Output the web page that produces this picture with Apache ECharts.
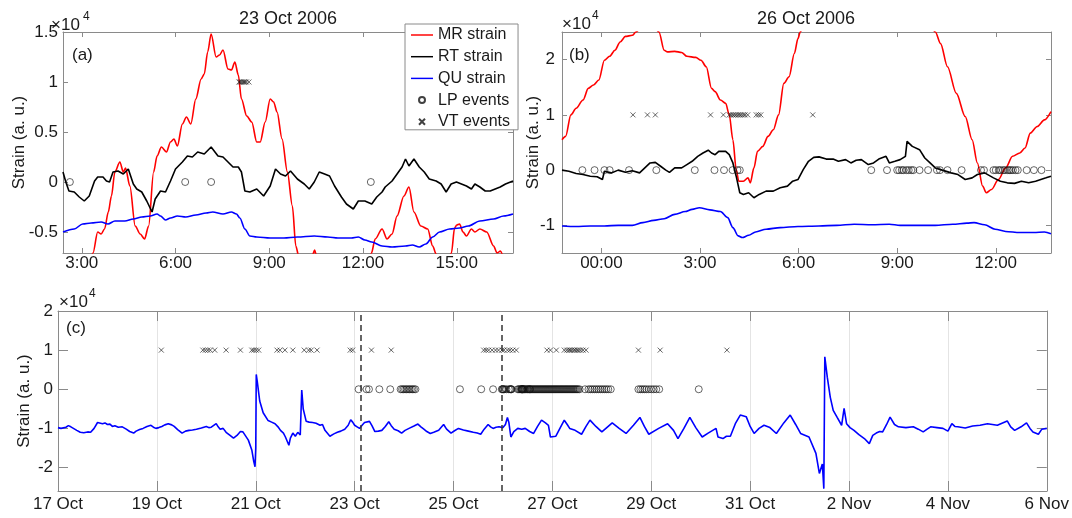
<!DOCTYPE html>
<html><head><meta charset="utf-8">
<script src="https://cdn.jsdelivr.net/npm/echarts@6/dist/echarts.min.js"></script>
<style>html,body{margin:0;padding:0;background:#fff}#c{width:1072px;height:518px}</style>
</head><body><div id="c"></div>
<script>
// ---------- DATA (strain in units of 1e4) ----------
// Panel (a): hours of 23 Oct 2006
const mrA = [[2.40,-1.30],[2.80,-1.10],[3.20,-0.85],[3.36,-0.71],[3.51,-0.50],[3.62,-0.52],[3.73,-0.47],[3.85,-0.30],[3.95,-0.14],[4.06,0.10],[4.22,0.20],[4.33,0.10],[4.40,0.14],[4.54,-0.04],[4.71,-0.44],[4.87,-0.52],[5.01,-0.57],[5.14,-0.44],[5.30,0.10],[5.41,0.26],[5.55,0.35],[5.71,0.30],[5.84,0.40],[5.95,0.43],[6.06,0.36],[6.22,0.58],[6.35,0.65],[6.49,0.58],[6.65,0.83],[6.82,1.03],[6.92,1.08],[7.03,1.30],[7.14,1.48],[7.30,1.25],[7.41,1.27],[7.52,1.32],[7.68,1.13],[7.79,1.12],[7.90,1.20],[8.01,1.07],[8.11,0.83],[8.28,0.66],[8.44,0.60],[8.60,0.40],[8.71,0.40],[8.87,0.60],[9.03,0.83],[9.14,0.80],[9.25,0.70],[9.41,0.43],[9.58,0.10],[9.74,-0.24],[9.85,-0.64],[9.95,-0.75],[10.15,-0.85],[10.40,-0.72],[10.45,-0.68],[10.52,-0.75],[10.80,-1.00],[11.50,-1.20],[12.10,-0.95],[12.27,-0.71],[12.39,-0.57],[12.61,-0.47],[12.77,-0.57],[12.93,-0.52],[13.09,-0.34],[13.31,-0.14],[13.47,-0.05],[13.63,-0.30],[13.85,-0.44],[14.07,-0.47],[14.23,-0.64],[14.34,-0.72],[14.55,-0.95],[14.83,-0.71],[14.93,-0.46],[15.00,-0.43],[15.09,-0.42],[15.20,-0.50],[15.31,-0.54],[15.47,-0.47],[15.58,-0.50],[15.74,-0.47],[15.96,-0.50],[16.18,-0.64],[16.29,-0.71],[16.40,-0.69],[16.50,-0.75],[16.80,-0.90]];
const rtA = [[2.40,0.10],[2.49,0.00],[2.59,-0.09],[2.76,-0.10],[2.92,-0.15],[3.08,-0.19],[3.24,-0.14],[3.41,0.01],[3.51,0.05],[3.68,0.05],[3.79,0.01],[3.89,0.00],[4.00,0.10],[4.16,0.11],[4.33,0.08],[4.49,0.13],[4.65,-0.02],[4.76,-0.07],[4.92,-0.10],[5.08,-0.19],[5.25,-0.30],[5.35,-0.17],[5.52,-0.09],[5.68,-0.10],[5.84,0.01],[6.00,0.13],[6.22,0.20],[6.38,0.26],[6.54,0.25],[6.71,0.30],[6.92,0.28],[7.14,0.35],[7.36,0.26],[7.52,0.25],[7.68,0.20],[7.84,0.15],[8.01,0.15],[8.11,0.10],[8.22,-0.09],[8.38,-0.10],[8.60,-0.07],[8.82,-0.14],[9.03,-0.04],[9.20,0.13],[9.36,0.08],[9.52,0.06],[9.68,0.11],[9.90,0.03],[10.12,-0.02],[10.28,-0.07],[10.44,0.00],[10.60,0.10],[10.77,0.08],[10.93,0.06],[11.09,-0.04],[11.31,-0.15],[11.47,-0.22],[11.69,-0.27],[11.85,-0.19],[12.06,-0.19],[12.28,-0.22],[12.44,-0.15],[12.61,-0.10],[12.71,-0.05],[12.93,0.01],[13.09,0.08],[13.25,0.15],[13.36,0.23],[13.47,0.16],[13.63,0.23],[13.80,0.15],[13.96,0.10],[14.12,0.03],[14.34,0.01],[14.50,-0.02],[14.66,-0.10],[14.82,-0.02],[14.99,0.00],[15.15,-0.02],[15.31,-0.04],[15.47,-0.07],[15.58,-0.02],[15.74,-0.05],[15.91,-0.09],[16.07,-0.09],[16.23,-0.07],[16.39,-0.05],[16.56,-0.02],[16.72,0.00],[16.80,0.01]];
const quA = [[2.40,-0.50],[2.76,-0.47],[3.03,-0.42],[3.30,-0.41],[3.62,-0.40],[3.84,-0.42],[4.06,-0.39],[4.38,-0.39],[4.65,-0.37],[4.92,-0.35],[5.19,-0.34],[5.41,-0.32],[5.52,-0.34],[5.68,-0.38],[5.84,-0.36],[6.06,-0.34],[6.33,-0.35],[6.65,-0.33],[6.98,-0.31],[7.19,-0.30],[7.52,-0.32],[7.79,-0.30],[7.95,-0.32],[8.06,-0.36],[8.22,-0.47],[8.38,-0.54],[8.60,-0.55],[9.03,-0.56],[9.47,-0.56],[9.90,-0.55],[10.44,-0.54],[10.87,-0.55],[11.20,-0.56],[11.63,-0.56],[11.85,-0.55],[12.06,-0.58],[12.28,-0.60],[12.61,-0.64],[12.93,-0.65],[13.36,-0.64],[13.58,-0.63],[13.80,-0.65],[14.01,-0.62],[14.23,-0.55],[14.45,-0.50],[14.77,-0.47],[15.09,-0.46],[15.37,-0.44],[15.74,-0.39],[16.18,-0.37],[16.50,-0.34],[16.80,-0.32]];
const lpA = [2.62, 6.31, 7.14, 12.25];
const vtA = [8.03, 8.07, 8.11, 8.15, 8.19, 8.23, 8.27, 8.35];

// Panel (b): hours of 26 Oct 2006
const mrB = [[-1.2,0.55],[-1.09,0.61],[-0.93,1.0],[-0.77,1.12],[-0.56,1.27],[-0.4,1.48],[-0.24,1.54],[-0.08,1.63],[0.09,1.99],[0.25,2.06],[0.41,2.17],[0.57,2.32],[0.73,2.42],[0.94,2.44],[1.05,2.5],[1.3,2.65],[1.55,2.65],[1.75,2.5],[1.91,2.17],[2.01,2.14],[2.23,2.15],[2.44,2.13],[2.6,2.06],[2.87,2.04],[3.03,1.99],[3.19,1.87],[3.35,1.48],[3.46,1.42],[3.62,1.27],[3.78,1.21],[3.89,1.0],[4.0,0.55],[4.1,0.01],[4.18,-0.2],[4.32,-0.2],[4.46,-0.14],[4.53,-0.23],[4.64,0.04],[4.75,0.34],[4.91,0.43],[5.07,0.61],[5.23,0.73],[5.39,1.0],[5.55,1.57],[5.71,1.69],[5.87,2.11],[5.98,2.38],[6.05,2.5],[6.3,2.9],[7.0,3.4],[8.0,3.8],[9.0,3.6],[9.8,2.9],[10.16,2.5],[10.32,2.29],[10.53,1.87],[10.8,1.39],[11.07,0.97],[11.28,0.55],[11.44,0.13],[11.6,-0.29],[11.71,-0.41],[11.87,-0.35],[12.08,-0.17],[12.3,0.04],[12.51,0.25],[12.73,0.31],[12.89,0.4],[13.05,0.67],[13.26,0.79],[13.48,0.91],[13.68,1.06]];
const rtB = [[-1.2,0.0],[-0.99,-0.02],[-0.77,-0.06],[-0.56,-0.08],[-0.34,-0.11],[-0.13,-0.12],[0.03,-0.17],[0.09,-0.02],[0.3,-0.05],[0.51,0.0],[0.73,-0.04],[0.94,-0.01],[1.16,-0.05],[1.32,0.04],[1.48,0.13],[1.64,0.14],[1.8,0.07],[1.96,0.0],[2.07,-0.04],[2.23,0.04],[2.44,0.04],[2.6,0.1],[2.76,0.16],[2.93,0.25],[3.09,0.31],[3.25,0.36],[3.35,0.31],[3.46,0.28],[3.57,0.34],[3.78,0.34],[3.89,0.28],[4.0,0.13],[4.1,-0.11],[4.21,-0.41],[4.32,-0.44],[4.48,-0.41],[4.64,-0.5],[4.8,-0.44],[5.01,-0.38],[5.23,-0.38],[5.44,-0.32],[5.66,-0.29],[5.82,-0.2],[5.98,-0.17],[6.14,0.01],[6.3,0.16],[6.46,0.23],[6.62,0.24],[6.84,0.2],[7.05,0.2],[7.21,0.16],[7.43,0.19],[7.59,0.13],[7.75,0.18],[7.91,0.19],[8.12,0.1],[8.28,0.13],[8.44,0.2],[8.66,0.25],[8.76,0.13],[8.93,0.16],[9.09,0.19],[9.25,0.25],[9.3,0.52],[9.36,0.54],[9.46,0.43],[9.68,0.37],[9.84,0.22],[10.0,0.13],[10.16,0.04],[10.37,0.0],[10.64,-0.05],[10.85,-0.08],[11.07,-0.17],[11.28,-0.14],[11.44,-0.08],[11.66,-0.05],[11.93,-0.14],[12.14,-0.2],[12.35,-0.23],[12.57,-0.24],[12.78,-0.2],[13.0,-0.23],[13.21,-0.2],[13.37,-0.17],[13.53,-0.14],[13.68,-0.11]];
const quB = [[-1.2,-1.01],[-0.77,-1.02],[-0.34,-1.01],[0.09,-1.01],[0.51,-1.0],[0.94,-1.0],[1.26,-0.95],[1.59,-0.91],[1.91,-0.88],[2.23,-0.80],[2.55,-0.75],[2.76,-0.71],[2.98,-0.68],[3.30,-0.72],[3.62,-0.75],[3.84,-0.86],[4.00,-1.04],[4.16,-1.19],[4.29,-1.22],[4.48,-1.18],[4.69,-1.12],[5.01,-1.07],[5.44,-1.04],[5.98,-1.02],[6.62,-1.01],[7.16,-1.0],[7.69,-0.98],[8.23,-0.99],[8.76,-0.98],[9.09,-1.0],[9.62,-1.0],[10.16,-1.0],[10.69,-0.98],[11.12,-0.96],[11.34,-0.95],[11.66,-0.99],[11.98,-1.07],[12.30,-1.11],[12.73,-1.13],[13.16,-1.13],[13.48,-1.12],[13.68,-1.15]];
const lpB = [-0.58,-0.21,0.09,0.25,0.84,1.67,2.84,3.44,3.73,3.99,4.14,4.21,8.21,8.69,9.0,9.06,9.14,9.19,9.28,9.35,9.43,9.49,9.68,9.94,10.21,10.3,10.53,10.96,11.55,11.64,11.93,12.0,12.09,12.14,12.22,12.28,12.36,12.41,12.46,12.52,12.6,12.67,12.94,13.16,13.39];
const vtB = [0.96,1.4,1.64,3.32,3.71,3.89,3.94,4.0,4.05,4.1,4.16,4.21,4.26,4.32,4.37,4.45,4.71,4.78,4.85,6.43];

// Panel (c): days since 17 Oct 2006 00:00
const quC = [[0.00,-0.98],[0.06,-1.00],[0.10,-0.95],[0.16,-0.97],[0.21,-0.93],[0.26,-0.96],[0.30,-0.98],[0.38,-1.05],[0.45,-1.10],[0.52,-1.11],[0.56,-1.06],[0.60,-1.09],[0.66,-1.10],[0.73,-1.00],[0.80,-0.85],[0.84,-0.82],[0.90,-0.88],[0.95,-0.86],[1.00,-0.90],[1.05,-0.89],[1.10,-0.95],[1.15,-0.93],[1.22,-0.97],[1.30,-0.96],[1.38,-1.02],[1.45,-1.08],[1.53,-1.12],[1.58,-1.07],[1.65,-1.03],[1.72,-1.00],[1.80,-0.95],[1.88,-0.92],[1.93,-0.97],[1.98,-1.00],[2.04,-0.98],[2.10,-0.95],[2.16,-0.91],[2.23,-0.88],[2.30,-0.91],[2.35,-0.95],[2.42,-1.03],[2.45,-1.08],[2.51,-1.12],[2.58,-1.07],[2.65,-1.05],[2.72,-1.04],[2.80,-1.02],[2.90,-0.99],[3.00,-0.95],[3.05,-0.98],[3.10,-0.97],[3.20,-0.88],[3.24,-0.96],[3.28,-1.02],[3.34,-1.00],[3.40,-1.10],[3.48,-1.18],[3.55,-1.25],[3.62,-1.18],[3.69,-1.08],[3.74,-1.09],[3.77,-1.12],[3.85,-1.30],[3.92,-1.55],[3.96,-1.85],[3.985,-1.98],[4.00,-1.50],[4.01,0.38],[4.03,0.20],[4.08,-0.30],[4.15,-0.60],[4.25,-0.80],[4.32,-0.84],[4.39,-0.88],[4.45,-0.96],[4.50,-1.05],[4.56,-1.12],[4.60,-1.22],[4.67,-1.43],[4.70,-1.25],[4.75,-1.12],[4.80,-1.20],[4.85,-1.10],[4.90,-1.17],[4.93,-0.02],[4.96,-0.50],[5.02,-0.82],[5.08,-0.84],[5.15,-0.85],[5.22,-0.87],[5.30,-0.92],[5.35,-0.90],[5.40,-1.05],[5.50,-1.20],[5.58,-1.14],[5.65,-1.10],[5.72,-1.07],[5.80,-1.02],[5.87,-0.92],[5.92,-0.78],[5.96,-0.84],[6.00,-0.92],[6.05,-0.96],[6.10,-1.00],[6.15,-0.92],[6.20,-0.85],[6.30,-0.82],[6.35,-0.93],[6.41,-1.08],[6.48,-1.07],[6.55,-1.05],[6.62,-0.95],[6.69,-0.83],[6.74,-0.93],[6.80,-1.02],[6.88,-1.06],[6.95,-1.12],[7.02,-1.05],[7.10,-1.00],[7.20,-0.94],[7.28,-0.89],[7.34,-0.96],[7.40,-1.02],[7.46,-1.08],[7.53,-1.13],[7.60,-1.10],[7.70,-1.05],[7.76,-0.96],[7.80,-0.90],[7.86,-1.02],[7.95,-1.12],[8.02,-1.06],[8.10,-1.00],[8.20,-1.04],[8.30,-1.07],[8.40,-1.10],[8.48,-1.12],[8.55,-1.15],[8.62,-1.02],[8.70,-0.90],[8.75,-0.96],[8.80,-1.00],[8.86,-0.97],[8.92,-0.96],[9.00,-0.98],[9.05,-0.90],[9.09,-0.72],[9.12,-0.85],[9.16,-1.22],[9.22,-1.08],[9.30,-1.00],[9.38,-1.02],[9.45,-1.00],[9.54,-1.08],[9.62,-1.13],[9.70,-0.95],[9.78,-0.79],[9.86,-0.86],[9.92,-0.92],[9.96,-1.22],[10.07,-1.20],[10.16,-0.98],[10.24,-0.79],[10.30,-0.90],[10.35,-1.00],[10.46,-1.05],[10.59,-1.15],[10.68,-0.95],[10.76,-0.79],[10.88,-0.95],[11.00,-1.09],[11.10,-0.98],[11.21,-0.86],[11.35,-1.00],[11.49,-1.13],[11.64,-0.92],[11.77,-0.72],[11.86,-0.95],[11.95,-1.15],[12.15,-1.00],[12.33,-0.88],[12.45,-1.05],[12.54,-1.26],[12.66,-1.00],[12.78,-0.72],[12.90,-0.98],[13.03,-1.22],[13.15,-1.12],[13.31,-1.00],[13.35,-1.22],[13.45,-1.26],[13.52,-1.20],[13.60,-1.20],[13.70,-0.88],[13.80,-0.66],[13.92,-0.70],[14.00,-0.95],[14.08,-1.13],[14.18,-1.00],[14.28,-0.92],[14.40,-0.98],[14.53,-1.13],[14.68,-0.86],[14.81,-0.66],[14.92,-0.90],[15.02,-1.13],[15.19,-1.22],[15.33,-1.64],[15.40,-2.15],[15.46,-1.91],[15.49,-2.54],[15.51,0.83],[15.56,0.31],[15.62,-0.20],[15.68,-0.54],[15.76,-0.72],[15.85,-0.92],[15.90,-0.49],[15.95,-0.88],[16.02,-0.98],[16.10,-1.05],[16.20,-1.16],[16.31,-1.26],[16.41,-1.39],[16.48,-1.18],[16.55,-1.12],[16.62,-1.08],[16.68,-1.09],[16.76,-0.90],[16.83,-0.71],[16.92,-0.90],[17.00,-0.96],[17.15,-0.98],[17.30,-0.96],[17.40,-1.02],[17.50,-1.09],[17.58,-1.02],[17.65,-0.96],[17.78,-0.98],[17.90,-1.00],[18.00,-1.07],[18.08,-0.88],[18.14,-0.95],[18.20,-0.96],[18.35,-0.99],[18.50,-0.94],[18.65,-0.92],[18.80,-0.88],[19.00,-0.92],[19.20,-0.81],[19.27,-0.96],[19.35,-1.05],[19.48,-0.96],[19.59,-0.86],[19.66,-1.00],[19.72,-1.09],[19.83,-1.15],[19.90,-1.02],[20.00,-1.00]];
const lpC = [6.08,6.24,6.29,6.5,6.72,6.93,6.96,6.99,7.02,7.05,7.08,7.11,7.14,7.17,7.2,7.23,8.13,8.56,8.8,8.976,8.991,9.004,9.01,9.035,9.07,9.118,9.143,9.155,9.166,9.175,9.30,9.32,9.342,9.362,9.375,9.38,9.385,9.39,9.395,9.403,9.414,9.425,9.439,9.457,9.481,9.497,9.51,9.528,9.539,9.548,9.558,9.58,9.60,9.62,9.64,9.66,9.68,9.70,9.72,9.74,9.76,9.78,9.80,9.82,9.84,9.86,9.88,9.90,9.92,9.94,9.96,9.98,10.00,10.02,10.04,10.06,10.08,10.10,10.12,10.14,10.16,10.18,10.20,10.22,10.24,10.26,10.28,10.30,10.32,10.34,10.36,10.38,10.40,10.42,10.44,10.46,10.48,10.50,10.52,10.55,10.66,10.73,10.77,10.81,10.85,10.89,10.93,10.97,11.01,11.05,11.09,11.13,11.18,11.74,11.78,11.82,11.86,11.9,11.95,12.0,12.05,12.1,12.16,12.96];
const vtC = [2.09,2.93,2.98,3.03,3.08,3.17,3.40,3.69,3.92,3.96,4.01,4.06,4.43,4.49,4.59,4.75,4.98,5.07,5.12,5.24,5.91,5.96,6.34,6.74,8.61,8.66,8.71,8.78,8.85,8.91,8.98,9.02,9.09,9.14,9.2,9.27,9.89,9.96,10.08,10.24,10.29,10.33,10.36,10.39,10.43,10.46,10.5,10.53,10.57,10.62,10.68,11.74,12.18,13.53];
const dashedC = [6.13, 8.98];

// levels at which events are drawn
const lpLevel = 0, vtLevel = 1;

// tick values / labels
const xTicksA = [3,6,9,12,15], xLabelsA = ['3:00','6:00','9:00','12:00','15:00'];
const xTicksB = [0,3,6,9,12], xLabelsB = ['00:00','3:00','6:00','9:00','12:00'];
const xTicksC = [0,2,4,6,8,10,12,14,16,18,20];
const xLabelsC = ['17 Oct','19 Oct','21 Oct','23 Oct','25 Oct','27 Oct','29 Oct','31 Oct','2 Nov','4 Nov','6 Nov'];
const yTicksA = [-0.5,0,0.5,1,1.5], yLabelsA = ['-0.5','0','0.5','1','1.5'];
const yTicksB = [-1,0,1,2], yLabelsB = ['-1','0','1','2'];
const yTicksC = [-2,-1,0,1,2], yLabelsC = ['-2','-1','0','1','2'];

// ---------- CHART ----------
const FONT = '"Liberation Sans", Arial, Helvetica, sans-serif';
const AX = '#8a8a8a', TXT = '#1a1a1a';
const fmt = (ticks, labels) => v => { const i = ticks.findIndex(t => Math.abs(t - v) < 1e-6); return i < 0 ? '' : labels[i]; };

function axis(gridIndex, position, min, max, ticks, labels, tickLen, margin, extra) {
  const main = (position === 'bottom' || position === 'left');
  return Object.assign({
    type: 'value', gridIndex, position, min, max,
    axisLine: { show: true, onZero: false, lineStyle: { color: AX, width: 1 } },
    axisTick: { show: true, inside: true, length: tickLen, customValues: ticks, lineStyle: { color: AX, width: 1 } },
    axisLabel: { show: main, customValues: ticks, margin, fontFamily: FONT, fontSize: 17, color: TXT, formatter: fmt(ticks, labels) },
    splitLine: { show: false }
  }, extra || {});
}

const xAxes = [
  axis(0, 'bottom', 2.4, 16.8, xTicksA, xLabelsA, 5, 2),
  axis(0, 'top', 2.4, 16.8, xTicksA, xLabelsA, 5, 2),
  axis(1, 'bottom', -1.2, 13.68, xTicksB, xLabelsB, 5, 2),
  axis(1, 'top', -1.2, 13.68, xTicksB, xLabelsB, 5, 2),
  axis(2, 'bottom', 0, 20, xTicksC, xLabelsC, 10, 5, { splitLine: { show: true, lineStyle: { color: '#e4e4e4', width: 1 } } }),
  axis(2, 'top', 0, 20, xTicksC, xLabelsC, 10, 5)
];
const yName = (gap) => ({ name: 'Strain (a. u.)', nameLocation: 'middle', nameGap: gap, nameMoveOverlap: false,
  nameTextStyle: { fontFamily: FONT, fontSize: 17, color: TXT } });
const yAxes = [
  axis(0, 'left', -0.71, 1.5, yTicksA, yLabelsA, 5, 5, yName(35)),
  axis(0, 'right', -0.71, 1.5, yTicksA, yLabelsA, 5, 5),
  axis(1, 'left', -1.5, 2.5, yTicksB, yLabelsB, 5, 7, yName(20)),
  axis(1, 'right', -1.5, 2.5, yTicksB, yLabelsB, 5, 7),
  axis(2, 'left', -2.6, 2, yTicksC, yLabelsC, 10, 5, yName(25)),
  axis(2, 'right', -2.6, 2, yTicksC, yLabelsC, 10, 5)
];

function lineS(name, data, color, xi, yi, smooth, extra) {
  return Object.assign({ type: 'line', name, data, xAxisIndex: xi, yAxisIndex: yi, symbol: 'none', showSymbol: false,
    smooth: smooth, smoothMonotone: 'x', clip: true, lineStyle: { color, width: 1.6 }, itemStyle: { color }, z: 2, silent: true }, extra || {});
}
const XSYM = 'path://M0,0L10,10M10,0L0,10';
function scatS(name, xs, level, symbol, size, xi, yi) {
  return { type: 'scatter', name, data: xs.map(x => [x, level]), xAxisIndex: xi, yAxisIndex: yi, symbol, symbolSize: size, clip: true,
    itemStyle: { color: 'rgba(0,0,0,0)', borderColor: '#111', borderWidth: 0.8 }, z: 3, silent: true };
}

const series = [
  lineS('MR strain', mrA, '#ff0000', 0, 0, 0.3),
  lineS('RT strain', rtA, '#000000', 0, 0, false),
  lineS('QU strain', quA, '#0000ff', 0, 0, 0.3),
  scatS('LP events', lpA, lpLevel, 'circle', 7, 0, 0),
  scatS('VT events', vtA, vtLevel, XSYM, 5, 0, 0),
  lineS('MR strain', mrB, '#ff0000', 2, 2, 0.3),
  lineS('RT strain', rtB, '#000000', 2, 2, false),
  lineS('QU strain', quB, '#0000ff', 2, 2, 0.3),
  scatS('LP events', lpB, lpLevel, 'circle', 7, 2, 2),
  scatS('VT events', vtB, vtLevel, XSYM, 5, 2, 2),
  lineS('QU strain', quC, '#0000ff', 4, 4, false, {
    markLine: { silent: true, symbol: ['none', 'none'], label: { show: false }, animation: false,
      lineStyle: { color: '#333', type: [6, 4], width: 1.5 }, data: dashedC.map(x => ({ xAxis: x })) }
  }),
  scatS('LP events', lpC, lpLevel, 'circle', 7, 4, 4),
  scatS('VT events', vtC, vtLevel, XSYM, 5, 4, 4)
];

const txt = (x, y, text, size, align) => ({ type: 'text', x, y, silent: true, z: 50,
  style: { text, font: size + 'px ' + FONT, fill: TXT, align: align || 'left', verticalAlign: 'middle' } });

const LINE_ICON = 'path://M0,0L30,0L30,2L0,2Z';
const option = {
  animation: false,
  backgroundColor: '#fff',
  grid: [
    { left: 63, top: 32, width: 450, height: 221 },
    { left: 562, top: 32, width: 489, height: 221 },
    { left: 58, top: 311, width: 990, height: 180 }
  ],
  xAxis: xAxes,
  yAxis: yAxes,
  series,
  legend: {
    orient: 'vertical', left: 405, top: 24, padding: [3, 8, 0, 6], itemGap: 5.7, itemWidth: 22, itemHeight: 6,
    borderColor: '#8a8a8a', borderWidth: 1, backgroundColor: '#fff', selectedMode: false, z: 20,
    textStyle: { fontFamily: FONT, fontSize: 16, color: TXT },
    data: [
      { name: 'MR strain', icon: LINE_ICON },
      { name: 'RT strain', icon: LINE_ICON },
      { name: 'QU strain', icon: LINE_ICON },
      { name: 'LP events' },
      { name: 'VT events' }
    ]
  },
  graphic: [
    txt(288, 19, '23 Oct 2006', 18, 'center'),
    txt(806, 19, '26 Oct 2006', 18, 'center'),
    txt(51, 25, '×10', 17), txt(83, 17, '4', 12),
    txt(562, 24, '×10', 17), txt(592, 16, '4', 12),
    txt(59, 302, '×10', 17), txt(89, 294, '4', 12),
    txt(72, 55, '(a)', 17), txt(569, 55, '(b)', 17), txt(66, 328, '(c)', 17)
  ]
};
const chart = echarts.init(document.getElementById('c'), null, { renderer: 'canvas' });
chart.setOption(option);
</script></body></html>
